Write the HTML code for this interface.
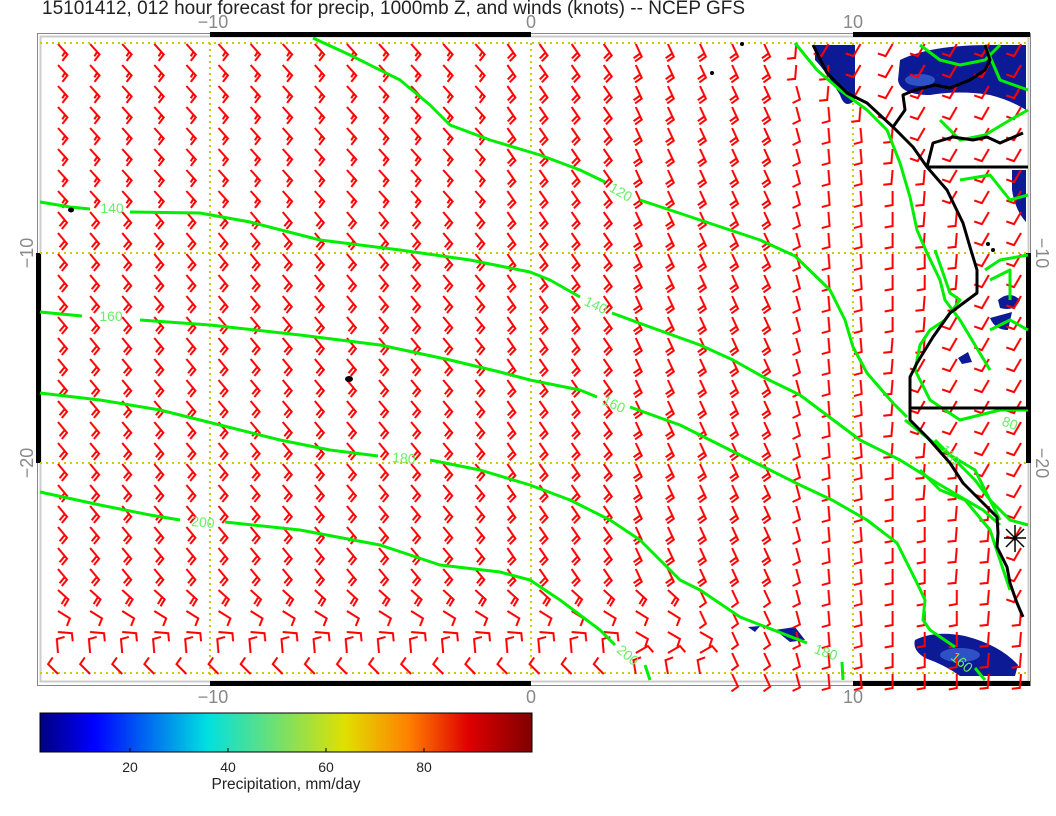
<!DOCTYPE html>
<html><head><meta charset="utf-8">
<style>
html,body{margin:0;padding:0;background:#fff;}
svg{display:block;}
text{font-family:"Liberation Sans",sans-serif;}
</style></head>
<body>
<svg width="1056" height="816" viewBox="0 0 1056 816" xmlns="http://www.w3.org/2000/svg">
<defs>
<linearGradient id="jet" x1="0" x2="1" y1="0" y2="0">
<stop offset="0" stop-color="#00007f"/>
<stop offset="0.11" stop-color="#0000ff"/>
<stop offset="0.34" stop-color="#00e0e0"/>
<stop offset="0.5" stop-color="#80e060"/>
<stop offset="0.62" stop-color="#e0e000"/>
<stop offset="0.75" stop-color="#ff8000"/>
<stop offset="0.87" stop-color="#e00000"/>
<stop offset="1" stop-color="#7f0000"/>
</linearGradient>
<pattern id="p48" patternUnits="userSpaceOnUse" x="42" y="41" width="32.1" height="21"><path d="M16,3L25.4,13.4L20.4,19.9M23.1,10.8L20.3,15.3" stroke="#f00" stroke-width="2" fill="none"/></pattern>
<pattern id="p50" patternUnits="userSpaceOnUse" x="42" y="41" width="32.1" height="21"><path d="M16,3L25,13.7L19.8,20M22.75,11L17.6,17.3" stroke="#f00" stroke-width="2" fill="none"/></pattern>
<pattern id="p55" patternUnits="userSpaceOnUse" x="42" y="41" width="32.1" height="21"><path d="M16,3L24,14.5L18.3,20.3M22,11.6L16.3,17.4" stroke="#f00" stroke-width="2" fill="none"/></pattern>
<pattern id="p65" patternUnits="userSpaceOnUse" x="42" y="41" width="32.1" height="21"><path d="M16,3L21.9,15.7L15.3,20.4M20.4,12.5L13.8,17.2" stroke="#f00" stroke-width="2" fill="none"/></pattern>
<pattern id="p65s" patternUnits="userSpaceOnUse" x="42" y="41" width="32.1" height="21"><path d="M16,3L21.9,15.7L15.3,20.4" stroke="#f00" stroke-width="2" fill="none"/></pattern>
<pattern id="p75" patternUnits="userSpaceOnUse" x="42" y="41" width="32.1" height="21"><path d="M16,3L19.6,16.5L12.3,20" stroke="#f00" stroke-width="2" fill="none"/></pattern>
<pattern id="p85" patternUnits="userSpaceOnUse" x="42" y="41" width="32.1" height="21"><path d="M16,3L17.2,16.9L9.4,19.1" stroke="#f00" stroke-width="2" fill="none"/></pattern>
<pattern id="p90" patternUnits="userSpaceOnUse" x="42" y="41" width="32.1" height="21"><path d="M16,3L16,17L8,18.5" stroke="#f00" stroke-width="2" fill="none"/></pattern>
<pattern id="p95" patternUnits="userSpaceOnUse" x="42" y="41" width="32.1" height="21"><path d="M16,3L14.8,16.9L6.7,17.7" stroke="#f00" stroke-width="2" fill="none"/></pattern>
<pattern id="p120" patternUnits="userSpaceOnUse" x="42" y="41" width="32.1" height="21"><path d="M16,3L9,15.1L1.3,12.4" stroke="#f00" stroke-width="2" fill="none"/></pattern>
<pattern id="p42" patternUnits="userSpaceOnUse" x="42" y="41" width="32.1" height="21"><path d="M16,3L26.4,12.4L22.2,19.3M23.8,10.1L19.6,17.1" stroke="#f00" stroke-width="2" fill="none"/></pattern>
<pattern id="p32" patternUnits="userSpaceOnUse" x="42" y="41" width="32.1" height="21"><path d="M16,3L27.9,10.4L24.9,18" stroke="#f00" stroke-width="2" fill="none"/></pattern>
<pattern id="p30" patternUnits="userSpaceOnUse" x="42" y="41" width="32.1" height="21"><path d="M16,3L28.1,10L25.4,17.7" stroke="#f00" stroke-width="2" fill="none"/></pattern>
<pattern id="p5" patternUnits="userSpaceOnUse" x="42" y="41" width="32.1" height="21"><path d="M16,3L29.9,4.2L30.7,12.3" stroke="#f00" stroke-width="2" fill="none"/></pattern>
<pattern id="pm95" patternUnits="userSpaceOnUse" x="42" y="26" width="32.1" height="21"><path d="M16,18L14.8,4.1L22.6,1.9" stroke="#f00" stroke-width="2" fill="none"/></pattern>
<pattern id="pm135" patternUnits="userSpaceOnUse" x="34" y="26" width="32.1" height="21"><path d="M24,18L14.1,8.1L18.7,1.4" stroke="#f00" stroke-width="2" fill="none"/></pattern>
<pattern id="pm30" patternUnits="userSpaceOnUse" x="50" y="26" width="32.1" height="21"><path d="M8,18L20.1,11L25.4,17.2" stroke="#f00" stroke-width="2" fill="none"/></pattern>
<pattern id="pm100" patternUnits="userSpaceOnUse" x="42" y="26" width="32.1" height="21"><path d="M16,18L13.6,4.2L21.2,1.3" stroke="#f00" stroke-width="2" fill="none"/></pattern>
</defs>
<text x="42" y="14" font-size="19" fill="#222">15101412, 012 hour forecast for precip, 1000mb Z, and winds (knots) -- NCEP GFS</text>

<!-- frame -->
<rect x="37.5" y="33.5" width="993" height="652" fill="none" stroke="#888" stroke-width="1"/>
<rect x="40.5" y="36.5" width="988" height="645" fill="none" stroke="#ccc" stroke-width="2"/>
<g fill="#000">
<rect x="210" y="32" width="321" height="5"/>
<rect x="853" y="32" width="177" height="5"/>
<rect x="210" y="681" width="321" height="5"/>
<rect x="853" y="681" width="177" height="5"/>
<rect x="36" y="253" width="5" height="210"/>
<rect x="1026" y="253" width="5" height="210"/>
</g>
<g font-size="18" fill="#888" text-anchor="middle">
<text x="213" y="28">−10</text><text x="531" y="28">0</text><text x="853" y="28">10</text>
<text x="213" y="703">−10</text><text x="531" y="703">0</text><text x="853" y="703">10</text>
<text transform="translate(33,253) rotate(-90)">−10</text>
<text transform="translate(33,463) rotate(-90)">−20</text>
<text transform="translate(1036,253) rotate(90)">−10</text>
<text transform="translate(1036,463) rotate(90)">−20</text>
</g>

<!-- grid -->
<g stroke="#cccc00" stroke-width="2" stroke-dasharray="2,4" fill="none">
<line x1="210" y1="43" x2="210" y2="676"/>
<line x1="531" y1="43" x2="531" y2="676"/>
<line x1="853" y1="43" x2="853" y2="676"/>
<line x1="40" y1="43" x2="1028" y2="43"/>
<line x1="40" y1="253" x2="1028" y2="253"/>
<line x1="40" y1="463" x2="1028" y2="463"/>
<line x1="40" y1="673" x2="1028" y2="673"/>
</g>

<!-- precip blobs -->
<g fill="#0c1a96">
<path d="M900,60 Q930,45 990,45 L1026,45 L1026,110 Q1010,100 990,95 Q960,90 930,95 Q900,95 898,80Z"/>
<path d="M815,45 L855,45 L855,100 Q845,110 840,95 Q825,70 815,60Z"/>
<path d="M1012,170 L1026,170 L1026,222 Q1015,210 1012,190Z"/>
<path d="M998,300 Q1010,290 1020,300 Q1015,312 1000,308Z"/>
<path d="M990,318 L1012,312 L1008,330 Q995,330 990,318Z"/>
<path d="M958,358 L968,352 L972,362 L962,364Z"/>
<path d="M915,640 Q935,630 965,636 Q1000,645 1018,665 L1015,676 L960,676 Q945,665 925,658 Q912,650 915,640Z"/>
<path d="M775,630 L795,627 L805,640 L790,642Z"/>
<path d="M748,627 L760,626 L755,632Z"/>
</g>
<g fill="#3d6bd8" opacity="0.7">
<ellipse cx="920" cy="80" rx="15" ry="6"/>
<ellipse cx="960" cy="655" rx="20" ry="7"/>
</g>

<!-- wind barbs -->
<g>
<rect x="42" y="41" width="449.4" height="168" fill="url(#p48)"/>
<rect x="42" y="209" width="449.4" height="378" fill="url(#p50)"/>
<rect x="491.4" y="41" width="128.4" height="546" fill="url(#p55)"/>
<rect x="619.8" y="41" width="160.5" height="546" fill="url(#p65)"/>
<rect x="780.3" y="83" width="32.1" height="609" fill="url(#p75)"/>
<rect x="812.4" y="104" width="32.1" height="588" fill="url(#p85)"/>
<rect x="844.5" y="125" width="32.1" height="567" fill="url(#p85)"/>
<rect x="876.6" y="188" width="32.1" height="147" fill="url(#p90)"/>
<rect x="876.6" y="461" width="32.1" height="231" fill="url(#p90)"/>
<rect x="908.7" y="251" width="32.1" height="42" fill="url(#p90)"/>
<rect x="908.7" y="503" width="32.1" height="189" fill="url(#p90)"/>
<rect x="940.8" y="587" width="32.1" height="105" fill="url(#p90)"/>
<rect x="780.3" y="41" width="32.1" height="21" fill="url(#p95)"/>
<rect x="780.3" y="62" width="64.2" height="21" fill="url(#p95)"/>
<rect x="812.4" y="83" width="32.1" height="21" fill="url(#p95)"/>
<rect x="844.5" y="104" width="32.1" height="21" fill="url(#p95)"/>
<rect x="876.6" y="125" width="32.1" height="42" fill="url(#p95)"/>
<rect x="876.6" y="167" width="64.2" height="21" fill="url(#p95)"/>
<rect x="908.7" y="188" width="32.1" height="21" fill="url(#p95)"/>
<rect x="908.7" y="209" width="64.2" height="42" fill="url(#p95)"/>
<rect x="940.8" y="251" width="32.1" height="42" fill="url(#p95)"/>
<rect x="908.7" y="293" width="64.2" height="21" fill="url(#p95)"/>
<rect x="908.7" y="314" width="32.1" height="21" fill="url(#p95)"/>
<rect x="876.6" y="335" width="64.2" height="21" fill="url(#p95)"/>
<rect x="876.6" y="356" width="32.1" height="84" fill="url(#p95)"/>
<rect x="876.6" y="440" width="64.2" height="21" fill="url(#p95)"/>
<rect x="908.7" y="461" width="64.2" height="42" fill="url(#p95)"/>
<rect x="940.8" y="503" width="64.2" height="84" fill="url(#p95)"/>
<rect x="972.9" y="587" width="32.1" height="21" fill="url(#p95)"/>
<rect x="972.9" y="608" width="64.2" height="84" fill="url(#p95)"/>
<rect x="812.4" y="41" width="224.7" height="21" fill="url(#p120)"/>
<rect x="844.5" y="62" width="192.6" height="42" fill="url(#p120)"/>
<rect x="876.6" y="104" width="160.5" height="21" fill="url(#p120)"/>
<rect x="908.7" y="125" width="128.4" height="42" fill="url(#p120)"/>
<rect x="940.8" y="167" width="96.3" height="42" fill="url(#p120)"/>
<rect x="972.9" y="209" width="64.2" height="105" fill="url(#p120)"/>
<rect x="940.8" y="314" width="96.3" height="42" fill="url(#p120)"/>
<rect x="908.7" y="356" width="128.4" height="84" fill="url(#p120)"/>
<rect x="940.8" y="440" width="96.3" height="21" fill="url(#p120)"/>
<rect x="972.9" y="461" width="64.2" height="42" fill="url(#p120)"/>
<rect x="1005" y="503" width="32.1" height="105" fill="url(#p120)"/>
<rect x="42" y="587" width="642" height="21" fill="url(#p42)"/>
<rect x="684" y="587" width="96.3" height="21" fill="url(#p65s)"/>
<rect x="42" y="608" width="642" height="21" fill="url(#p32)"/>
<rect x="684" y="608" width="96.3" height="21" fill="url(#p65s)"/>
<rect x="42" y="629" width="577.8" height="21" fill="url(#p5)"/>
<rect x="619.8" y="629" width="96.3" height="21" fill="url(#p30)"/>
<rect x="716.1" y="629" width="64.2" height="21" fill="url(#p65s)"/>
<rect x="42" y="635" width="577.8" height="21" fill="url(#pm95)"/>
<rect x="627.8" y="635" width="96.3" height="21" fill="url(#pm30)"/>
<rect x="716.1" y="650" width="64.2" height="21" fill="url(#p65s)"/>
<rect x="34" y="656" width="577.8" height="21" fill="url(#pm135)"/>
<rect x="619.8" y="656" width="96.3" height="21" fill="url(#pm100)"/>
<rect x="716.1" y="671" width="64.2" height="21" fill="url(#p65s)"/>
</g>

<!-- contours -->
<g stroke="#00ee00" stroke-width="3" fill="none" stroke-linejoin="round">
<polyline points="313,38 350,55 400,80 430,105 450,125 490,140 540,155 580,170 605,182"/>
<polyline points="640,200 700,220 760,240 795,256 830,290 845,320 853,347 867,373 893,403 907,417"/>
<polyline points="40,202 70,207 90,209"/>
<polyline points="130,212 200,213 250,222 320,240 400,250 470,260 530,272 550,280 580,297"/>
<polyline points="612,313 650,327 700,345 733,360 765,378 800,395 860,440 900,460 937,483 983,510 1000,525"/>
<polyline points="40,312 82,316"/>
<polyline points="140,320 210,325 300,335 380,345 450,360 500,372 530,380 580,390 597,397"/>
<polyline points="630,407 680,425 720,445 760,465 800,485 832,500 867,520 897,543 917,583 925,600 923,620 930,630 955,647"/>
<polyline points="40,393 100,400 160,410 220,425 280,440 330,450 378,456"/>
<polyline points="430,460 480,470 530,485 570,500 610,520 640,540 660,560 680,580 700,590 740,617 807,643"/>
<polyline points="842,662 843,680"/>
<polyline points="40,492 100,505 150,515 180,520"/>
<polyline points="225,522 300,530 380,545 440,565 500,572 530,580 560,600 580,615 600,630 615,645"/>
<polyline points="645,665 650,680"/>
<polyline points="975,668 985,680"/>
<polyline points="795,43 817,70 840,90 867,110 887,130 900,163 910,197 917,230 927,253 940,280 945,300 960,320 975,345 990,370"/>
<polyline points="935,250 950,293 960,300 945,320 930,330 920,345 915,370 930,400 960,420 1000,410 1028,410"/>
<polyline points="905,420 930,440 950,455 975,480 990,500 1000,520"/>
<polyline points="920,45 940,60 960,65 985,60 1000,45"/>
<polyline points="985,45 1000,80 1028,90"/>
<polyline points="940,120 960,140 985,135 1010,120 1028,110"/>
<polyline points="960,180 990,175 1010,200 1028,195"/>
<polyline points="985,270 1000,260 1028,255"/>
<polyline points="990,330 1010,320 1028,330"/>
<polyline points="990,280 1010,270 1010,300"/>
<polyline points="935,440 950,455 975,470 990,500 1010,520 1028,525"/>
<polyline points="920,470 940,490 965,500 990,530 1000,560 1010,590"/>
</g>
<g font-size="14" fill="#66ee66" text-anchor="middle">
<text x="621" y="197" transform="rotate(30 621 192)">120</text>
<text x="112" y="213">140</text>
<text x="596" y="310" transform="rotate(25 596 305)">140</text>
<text x="111" y="321">160</text>
<text x="614" y="409" transform="rotate(25 614 404)">160</text>
<text x="404" y="463" transform="rotate(5 404 458)">180</text>
<text x="826" y="657" transform="rotate(20 826 652)">180</text>
<text x="203" y="527" transform="rotate(5 203 522)">200</text>
<text x="628" y="660" transform="rotate(40 628 655)">200</text>
<text x="962" y="667" transform="rotate(40 962 662)">160</text>
<text x="950" y="460" transform="rotate(50 950 455)">110</text>
<text x="1010" y="428" transform="rotate(20 1010 423)">80</text>
</g>

<!-- coastline -->
<g stroke="#000" stroke-width="3" fill="none" stroke-linejoin="round">
<polyline points="813,45 827,73 847,93 867,103 893,127 913,147 927,167 947,190 963,223 970,247 977,270 977,293 950,313 933,337 917,363 910,377 910,403 910,420 927,437 950,463 963,483 983,503 997,517 998,533 997,547 1007,567 1010,583 1017,603 1023,617"/>
<polyline points="910,408 1028,408"/>
<polyline points="927,167 1028,167"/>
<polyline points="927,167 933,143 953,137 973,140 987,137 1000,143 1023,133"/>
<polyline points="893,127 905,110 903,95 915,90 935,85 950,88 970,80 985,70 990,60 985,45"/>
</g>
<g fill="#000">
<ellipse cx="71" cy="210" rx="3" ry="2.5"/>
<ellipse cx="349" cy="379" rx="4" ry="3"/>
<circle cx="742" cy="44" r="2"/><circle cx="712" cy="73" r="2"/>
<circle cx="988" cy="244" r="2"/><circle cx="993" cy="250" r="2"/>
</g>
<g stroke="#000" stroke-width="1.5">
<line x1="1004" y1="538" x2="1026" y2="538"/>
<line x1="1015" y1="525" x2="1015" y2="552"/>
<line x1="1006" y1="529" x2="1024" y2="547"/>
<line x1="1006" y1="547" x2="1024" y2="529"/>
</g>

<!-- colorbar -->
<rect x="40" y="713" width="492" height="39" fill="url(#jet)" stroke="#000" stroke-width="1"/>
<g stroke="#000" stroke-width="1">
<line x1="130" y1="752" x2="130" y2="748"/><line x1="228" y1="752" x2="228" y2="748"/>
<line x1="326" y1="752" x2="326" y2="748"/><line x1="424" y1="752" x2="424" y2="748"/>
</g>
<g font-size="14" fill="#222" text-anchor="middle">
<text x="130" y="772">20</text><text x="228" y="772">40</text>
<text x="326" y="772">60</text><text x="424" y="772">80</text>
<text x="286" y="789" font-size="15.5">Precipitation, mm/day</text>
</g>
</svg>
</body></html>
